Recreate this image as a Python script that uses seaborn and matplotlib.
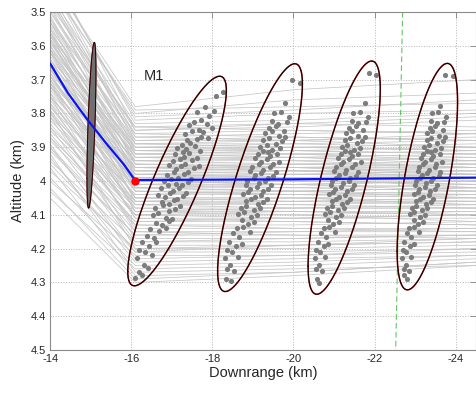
import numpy as np
import pandas as pd
import matplotlib
matplotlib.use("Agg")
import matplotlib.pyplot as plt
import seaborn as sns

# Monte Carlo trajectories: altitude (km) at the downrange nodes (km)
NODE_X = [-14.0, -16.1, -20.0, -24.5]
H_START = [3.40, 3.42, 3.38, 3.45, 3.50, 3.36, 3.47, 3.52, 3.44, 3.55,
           3.41, 3.58, 3.49, 3.62, 3.53, 3.46, 3.60, 3.56, 3.65, 3.51,
           3.59, 3.68, 3.54, 3.63, 3.57, 3.70, 3.61, 3.66, 3.55, 3.72,
           3.64, 3.69, 3.58, 3.75, 3.67, 3.62, 3.73, 3.78, 3.65, 3.71,
           3.80, 3.68, 3.76, 3.82, 3.70, 3.79, 3.85, 3.74, 3.83, 3.88,
           3.77, 3.86, 3.91, 3.81, 3.94, 3.87, 3.97, 3.90, 4.00, 3.93,
           4.03, 3.96, 4.05,
           3.43, 3.39, 3.48, 3.46, 3.53, 3.40, 3.57, 3.50, 3.61, 3.45,
           3.56, 3.64, 3.52, 3.59, 3.67, 3.48, 3.62, 3.71, 3.58, 3.66,
           3.53, 3.69, 3.74, 3.60, 3.67, 3.56, 3.72, 3.64, 3.77, 3.69,
           3.61, 3.75, 3.81, 3.72, 3.66, 3.84, 3.78, 3.71, 3.87, 3.80,
           3.75, 3.90, 3.84, 3.79, 3.95, 3.89, 3.99, 3.92, 4.02]
H_KINK = [3.78, 3.80, 3.82, 3.83, 3.84, 3.85, 3.86, 3.87, 3.88, 3.88,
          3.89, 3.90, 3.90, 3.91, 3.92, 3.92, 3.93, 3.94, 3.94, 3.95,
          3.95, 3.96, 3.96, 3.97, 3.97, 3.98, 3.98, 3.99, 3.99, 4.00,
          4.00, 4.01, 4.01, 4.02, 4.02, 4.03, 4.03, 4.04, 4.05, 4.05,
          4.06, 4.07, 4.07, 4.08, 4.09, 4.10, 4.10, 4.11, 4.12, 4.13,
          4.14, 4.15, 4.16, 4.17, 4.18, 4.19, 4.20, 4.21, 4.22, 4.24,
          4.26, 4.28, 4.30,
          3.79, 3.81, 3.84, 3.85, 3.86, 3.87, 3.89, 3.89, 3.90, 3.91,
          3.91, 3.92, 3.93, 3.93, 3.94, 3.95, 3.96, 3.96, 3.97, 3.98,
          3.98, 3.99, 4.00, 4.00, 4.01, 4.02, 4.02, 4.03, 4.04, 4.05,
          4.06, 4.06, 4.07, 4.08, 4.09, 4.09, 4.10, 4.11, 4.12, 4.13,
          4.15, 4.16, 4.18, 4.20, 4.21, 4.23, 4.25, 4.27, 4.29]
H_MID = [3.73, 3.76, 3.80, 3.82, 3.83, 3.84, 3.85, 3.86, 3.87, 3.88,
         3.89, 3.90, 3.91, 3.90, 3.92, 3.93, 3.93, 3.94, 3.95, 3.95,
         3.96, 3.96, 3.97, 3.97, 3.98, 3.98, 3.99, 3.99, 4.00, 4.00,
         4.01, 4.01, 4.02, 4.02, 4.03, 4.03, 4.04, 4.04, 4.05, 4.06,
         4.06, 4.07, 4.08, 4.08, 4.09, 4.10, 4.11, 4.11, 4.12, 4.13,
         4.14, 4.15, 4.16, 4.17, 4.18, 4.19, 4.20, 4.21, 4.22, 4.23,
         4.25, 4.27, 4.28,
         3.78, 3.79, 3.85, 3.83, 3.87, 3.88, 3.88, 3.90, 3.89, 3.92,
         3.91, 3.91, 3.94, 3.92, 3.93, 3.96, 3.95, 3.97, 3.96, 3.97,
         3.99, 3.98, 3.99, 4.01, 4.00, 4.03, 4.01, 4.04, 4.03, 4.05,
         4.07, 4.05, 4.06, 4.09, 4.10, 4.08, 4.09, 4.12, 4.11, 4.14,
         4.16, 4.15, 4.17, 4.19, 4.19, 4.22, 4.24, 4.26, 4.27]
H_END = [3.70, 3.74, 3.79, 3.80, 3.84, 3.82, 3.86, 3.85, 3.88, 3.87,
         3.90, 3.89, 3.92, 3.91, 3.93, 3.92, 3.95, 3.93, 3.96, 3.94,
         3.97, 3.96, 3.98, 3.96, 3.99, 3.98, 4.00, 3.98, 4.01, 4.00,
         4.02, 4.00, 4.03, 4.01, 4.04, 4.02, 4.05, 4.03, 4.06, 4.05,
         4.07, 4.06, 4.08, 4.07, 4.10, 4.09, 4.11, 4.10, 4.13, 4.12,
         4.14, 4.14, 4.17, 4.16, 4.17, 4.18, 4.19, 4.20, 4.21, 4.22,
         4.23, 4.24, 4.25,
         3.77, 3.76, 3.86, 3.81, 3.88, 3.90, 3.86, 3.91, 3.88, 3.94,
         3.90, 3.92, 3.96, 3.91, 3.94, 3.98, 3.95, 3.97, 3.95, 3.99,
         4.02, 3.97, 3.99, 4.03, 4.01, 4.05, 4.00, 4.04, 4.02, 4.07,
         4.08, 4.04, 4.06, 4.09, 4.12, 4.08, 4.10, 4.13, 4.10, 4.15,
         4.16, 4.15, 4.16, 4.18, 4.17, 4.20, 4.22, 4.25, 4.24]

# nominal trajectory
NOMINAL_X = [-14.0, -14.44, -14.93, -15.42, -15.83, -16.09, -20.0, -24.5]
NOMINAL_Y = [3.652, 3.74, 3.82, 3.894, 3.953, 3.997, 3.995, 3.99]
EVENT_X = [-16.09]
EVENT_Y = [3.999]

# gate line
GATE_X = [-22.69, -22.52]
GATE_Y = [3.5, 4.5]

# dispersion ellipses: centre, half extents, correlation
ELL_CX = [-15.02, -17.13, -19.175, -21.25, -23.30]
ELL_CY = [3.835, 4.00, 3.99, 3.99, 3.987]
ELL_SX = [0.11, 1.215, 1.045, 0.89, 0.745]
ELL_SY = [0.245, 0.31, 0.337, 0.345, 0.335]
ELL_RHO = [0.64, 0.864, 0.82, 0.76, 0.66]

# sample points (downrange, altitude) in the four open ellipses
PTS2 = [(-18.08, 3.748), (-18.27, 3.738), (-17.83, 3.781), (-18.04, 3.793),
        (-17.63, 3.797), (-17.91, 3.809), (-17.72, 3.818),
        (-17.55, 3.826), (-17.87, 3.831), (-17.98, 3.842),
        (-17.42, 3.834), (-17.66, 3.849), (-17.77, 3.856),
        (-17.33, 3.861), (-17.51, 3.852), (-17.71, 3.871), (-17.90, 3.874),
        (-17.38, 3.879), (-17.46, 3.888), (-17.61, 3.877), (-17.24, 3.893),
        (-17.14, 3.902), (-17.36, 3.905), (-17.58, 3.896), (-17.69, 3.912), (-17.27, 3.913),
        (-17.09, 3.921), (-17.31, 3.929), (-17.43, 3.917), (-17.62, 3.931),
        (-17.03, 3.941), (-17.21, 3.934), (-17.33, 3.950), (-17.49, 3.939), (-17.66, 3.957),
        (-16.93, 3.952), (-17.11, 3.964), (-17.22, 3.956), (-17.40, 3.973), (-17.55, 3.961),
        (-16.88, 3.981), (-17.05, 3.972), (-17.16, 3.990), (-17.31, 3.979), (-17.47, 3.994),
        (-16.81, 4.001), (-16.97, 3.993), (-17.10, 4.009), (-17.25, 4.013), (-17.41, 4.002),
        (-16.73, 4.021), (-16.90, 4.012), (-17.02, 4.030), (-17.19, 4.020), (-17.35, 4.034),
        (-16.66, 4.041), (-16.83, 4.047), (-16.96, 4.036), (-17.12, 4.053), (-17.27, 4.044),
        (-16.75, 4.062), (-16.93, 4.069), (-17.06, 4.057), (-17.21, 4.074),
        (-16.58, 4.081), (-16.78, 4.072), (-16.92, 4.090), (-17.09, 4.083),
        (-16.53, 4.101), (-16.66, 4.094), (-16.85, 4.109), (-17.01, 4.113),
        (-16.62, 4.123), (-16.77, 4.131), (-16.93, 4.119),
        (-16.47, 4.141), (-16.68, 4.149), (-16.85, 4.138),
        (-16.40, 4.163), (-16.55, 4.170),
        (-16.27, 4.180), (-16.44, 4.193), (-16.60, 4.179),
        (-16.20, 4.204), (-16.33, 4.211), (-16.50, 4.218), (-16.14, 4.228),
        (-16.32, 4.249), (-16.19, 4.268), (-16.42, 4.258),
        (-16.09, 4.288), (-16.26, 4.279)]
PTS3 = [(-19.97, 3.702), (-20.16, 3.709), (-19.80, 3.768),
        (-19.53, 3.799), (-19.70, 3.797), (-19.88, 3.812),
        (-19.47, 3.822), (-19.63, 3.830), (-19.83, 3.826),
        (-19.40, 3.842), (-19.56, 3.836), (-19.76, 3.851),
        (-19.31, 3.859), (-19.46, 3.853), (-19.64, 3.868), (-19.80, 3.870),
        (-19.25, 3.880), (-19.40, 3.873), (-19.58, 3.889), (-19.72, 3.883),
        (-19.18, 3.899), (-19.34, 3.893), (-19.48, 3.907), (-19.66, 3.901), (-19.38, 3.914),
        (-19.12, 3.920), (-19.26, 3.912), (-19.43, 3.927), (-19.60, 3.921),
        (-19.05, 3.931), (-19.19, 3.943), (-19.34, 3.936), (-19.50, 3.951), (-19.65, 3.944),
        (-18.98, 3.959), (-19.14, 3.951), (-19.26, 3.967), (-19.42, 3.960), (-19.57, 3.972),
        (-18.92, 3.971), (-19.04, 3.983), (-19.20, 3.976), (-19.36, 3.991), (-19.50, 3.985),
        (-18.86, 3.999), (-19.02, 3.992), (-19.14, 4.007), (-19.30, 4.001), (-19.44, 4.013),
        (-18.82, 4.011), (-18.94, 4.023), (-19.10, 4.017), (-19.26, 4.031), (-19.38, 4.024),
        (-18.76, 4.039), (-18.88, 4.033), (-19.04, 4.047), (-19.20, 4.041), (-19.34, 4.053),
        (-18.84, 4.060), (-18.96, 4.054), (-19.12, 4.067), (-19.26, 4.062),
        (-18.70, 4.079), (-18.84, 4.073), (-19.02, 4.087), (-19.18, 4.081),
        (-18.64, 4.099), (-18.78, 4.093), (-18.96, 4.107), (-19.10, 4.101),
        (-18.74, 4.114), (-18.88, 4.126), (-19.03, 4.121),
        (-18.60, 4.139), (-18.76, 4.137), (-18.93, 4.150),
        (-18.52, 4.155), (-18.66, 4.167),
        (-18.42, 4.181), (-18.58, 4.192), (-18.72, 4.187),
        (-18.37, 4.204), (-18.48, 4.209), (-18.62, 4.226), (-18.31, 4.229),
        (-18.43, 4.249), (-18.36, 4.261), (-18.53, 4.266),
        (-18.34, 4.289), (-18.46, 4.297)]
PTS4 = [(-21.86, 3.679), (-22.04, 3.686), (-21.76, 3.769),
        (-21.47, 3.799), (-21.63, 3.797), (-21.83, 3.812),
        (-21.44, 3.822), (-21.58, 3.829), (-21.78, 3.825),
        (-21.38, 3.842), (-21.53, 3.837), (-21.72, 3.850),
        (-21.30, 3.859), (-21.44, 3.853), (-21.60, 3.867), (-21.76, 3.870),
        (-21.26, 3.880), (-21.40, 3.873), (-21.56, 3.888), (-21.70, 3.882),
        (-21.20, 3.899), (-21.32, 3.893), (-21.48, 3.907), (-21.64, 3.901), (-21.40, 3.913),
        (-21.16, 3.920), (-21.28, 3.912), (-21.44, 3.927), (-21.60, 3.921),
        (-21.10, 3.931), (-21.22, 3.943), (-21.36, 3.936), (-21.51, 3.951), (-21.66, 3.944),
        (-21.06, 3.959), (-21.16, 3.951), (-21.30, 3.967), (-21.45, 3.960), (-21.60, 3.972),
        (-21.00, 3.971), (-21.11, 3.983), (-21.26, 3.976), (-21.40, 3.991), (-21.54, 3.985),
        (-20.96, 3.999), (-21.06, 3.992), (-21.21, 4.007), (-21.36, 4.001), (-21.48, 4.013),
        (-20.92, 4.011), (-21.03, 4.023), (-21.18, 4.017), (-21.32, 4.031), (-21.44, 4.024),
        (-20.88, 4.039), (-20.98, 4.033), (-21.13, 4.047), (-21.28, 4.041), (-21.40, 4.053),
        (-20.94, 4.060), (-21.05, 4.054), (-21.20, 4.067), (-21.33, 4.062),
        (-20.82, 4.079), (-20.94, 4.073), (-21.10, 4.087), (-21.25, 4.081),
        (-20.78, 4.099), (-20.90, 4.093), (-21.06, 4.107), (-21.18, 4.101),
        (-20.86, 4.114), (-20.98, 4.126), (-21.12, 4.121),
        (-20.74, 4.139), (-20.88, 4.137), (-21.03, 4.150),
        (-20.68, 4.155), (-20.80, 4.167),
        (-20.60, 4.181), (-20.74, 4.192), (-20.86, 4.187),
        (-20.56, 4.204), (-20.66, 4.209), (-20.78, 4.226), (-20.52, 4.229),
        (-20.62, 4.249), (-20.56, 4.261), (-20.70, 4.266),
        (-20.57, 4.289), (-20.63, 4.301)]
PTS5 = [(-23.73, 3.685), (-23.94, 3.688), (-23.62, 3.779),
        (-23.42, 3.799), (-23.56, 3.797), (-23.76, 3.812),
        (-23.40, 3.822), (-23.54, 3.829), (-23.72, 3.825),
        (-23.36, 3.842), (-23.50, 3.837), (-23.68, 3.850),
        (-23.30, 3.859), (-23.42, 3.853), (-23.58, 3.867), (-23.74, 3.870),
        (-23.28, 3.880), (-23.40, 3.873), (-23.54, 3.888), (-23.68, 3.882),
        (-23.22, 3.899), (-23.33, 3.893), (-23.48, 3.907), (-23.63, 3.901), (-23.40, 3.913),
        (-23.20, 3.920), (-23.30, 3.912), (-23.45, 3.927), (-23.60, 3.921),
        (-23.14, 3.931), (-23.25, 3.943), (-23.38, 3.936), (-23.52, 3.951), (-23.66, 3.944),
        (-23.10, 3.959), (-23.20, 3.951), (-23.34, 3.967), (-23.48, 3.960), (-23.62, 3.972),
        (-23.06, 3.971), (-23.16, 3.983), (-23.30, 3.976), (-23.44, 3.991), (-23.58, 3.985),
        (-23.02, 3.999), (-23.12, 3.992), (-23.26, 4.007), (-23.40, 4.001), (-23.53, 4.013),
        (-22.99, 4.011), (-23.09, 4.023), (-23.23, 4.017), (-23.36, 4.031), (-23.48, 4.024),
        (-22.96, 4.039), (-23.06, 4.033), (-23.20, 4.047), (-23.33, 4.041), (-23.45, 4.053),
        (-23.02, 4.060), (-23.12, 4.054), (-23.26, 4.067), (-23.38, 4.062),
        (-22.92, 4.079), (-23.02, 4.073), (-23.16, 4.087), (-23.30, 4.081),
        (-22.88, 4.099), (-22.98, 4.093), (-23.12, 4.107), (-23.24, 4.101),
        (-22.96, 4.114), (-23.06, 4.126), (-23.20, 4.121),
        (-22.84, 4.139), (-22.96, 4.137), (-23.10, 4.150),
        (-22.80, 4.155), (-22.90, 4.167),
        (-22.72, 4.181), (-22.86, 4.192), (-22.96, 4.187),
        (-22.70, 4.204), (-22.78, 4.209), (-22.90, 4.226), (-22.67, 4.229),
        (-22.77, 4.249), (-22.73, 4.261), (-22.85, 4.266),
        (-22.72, 4.279), (-22.81, 4.291)]

X_TICKS = [-14, -16, -18, -20, -22, -24]
Y_TICKS = [3.5, 3.6, 3.7, 3.8, 3.9, 4.0, 4.1, 4.2, 4.3, 4.4, 4.5]


def ellipse_outline(cx, cy, sx, sy, rho, n=300):
    t = np.linspace(0, 2 * np.pi, n)
    x = cx + sx * np.cos(t)
    y = cy + sy * (rho * np.cos(t) + np.sqrt(1 - rho ** 2) * np.sin(t))
    return x, y


sns.set_style("white")
plt.rcParams["font.family"] = ["Liberation Sans", "DejaVu Sans"]
plt.rcParams["axes.unicode_minus"] = False

fig = plt.figure(figsize=(4.77, 3.93), dpi=100)
ax = fig.add_axes([0.105, 0.1094, 0.893, 0.860])

rows = []
for i, hs in enumerate(zip(H_START, H_KINK, H_MID, H_END)):
    for x, h in zip(NODE_X, hs):
        rows.append({"run": i, "x": x, "h": h})
traj = pd.DataFrame(rows)
sns.lineplot(data=traj, x="x", y="h", units="run", estimator=None, sort=False,
             color="#c6c6c6", lw=0.55, ax=ax, legend=False, zorder=1)

pts = pd.DataFrame(PTS2 + PTS3 + PTS4 + PTS5, columns=["x", "y"])
sns.scatterplot(data=pts, x="x", y="y", color="#7c7c7c", s=14, linewidth=0,
                ax=ax, legend=False, zorder=3)

for k in range(len(ELL_CX)):
    ex, ey = ellipse_outline(ELL_CX[k], ELL_CY[k], ELL_SX[k], ELL_SY[k], ELL_RHO[k])
    if k == 0:
        # the early, narrow cloud is so dense it reads as a filled shape
        ax.fill(ex, ey, color="#707070", zorder=3)
        ax.plot(ex, ey, color="#c02020", lw=0.6, zorder=4)
        ax.plot(ex, ey, color="#140000", lw=0.6, zorder=5)
        continue
    ax.plot(ex, ey, color="#c02020", lw=1.1, zorder=4)
    ax.plot(ex, ey, color="#140000", lw=0.8, zorder=5)

nom = pd.DataFrame({"x": NOMINAL_X, "y": NOMINAL_Y})
sns.lineplot(data=nom, x="x", y="y", sort=False, color="#0a14f0", lw=1.6,
             ax=ax, zorder=6)
ax.plot(EVENT_X, EVENT_Y, "o", color="red", ms=5, mec="red", zorder=7)

ax.plot(GATE_X, GATE_Y, color="#66c466", lw=0.8, dashes=(5, 3), zorder=2)

ax.text(-16.3, 3.69, "M1", fontsize=10.5, va="center", ha="left")

ax.set_xlim(-14, -24.5)
ax.set_ylim(4.5, 3.5)
ax.set_xticks(X_TICKS)
ax.set_xticklabels([f"{v:g}" for v in X_TICKS])
ax.set_yticks(Y_TICKS)
ax.set_yticklabels([f"{v:g}" for v in Y_TICKS])
ax.grid(True, color="#b5b5b5", linestyle=":", lw=0.7)
ax.set_axisbelow(True)
ax.tick_params(direction="in", length=4, width=0.6, color="#808080",
               labelsize=8, top=True, right=True, pad=3)
for s in ax.spines.values():
    s.set_color("#8a8a8a")
    s.set_linewidth(0.8)
ax.set_xlabel("Downrange (km)", fontsize=10.5, labelpad=1)
ax.set_ylabel("Altitude (km)", fontsize=10.5, labelpad=4)

fig.savefig("out.png", dpi=100)
